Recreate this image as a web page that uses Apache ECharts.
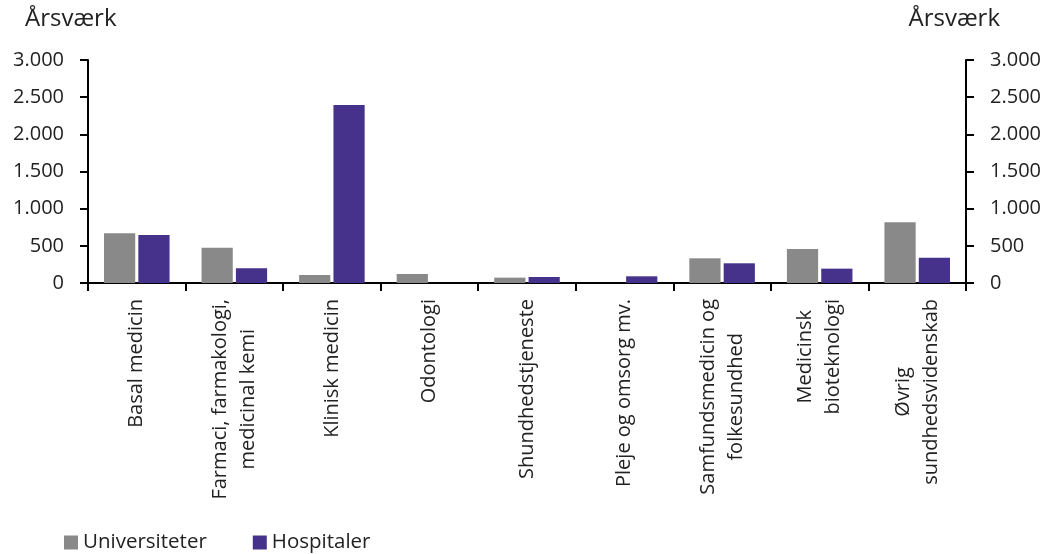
<!DOCTYPE html>
<html>
<head>
<meta charset="utf-8">
<script src="https://cdn.jsdelivr.net/npm/echarts@6/dist/echarts.min.js"></script>
<style>
html,body{margin:0;padding:0;background:#fff;}
#chart{width:1051px;height:554px;}
</style>
</head>
<body>
<div id="chart"></div>
<script>
const categories = [
  "Basal medicin",
  "Farmaci, farmakologi,\nmedicinal kemi",
  "Klinisk medicin",
  "Odontologi",
  "Shundhedstjeneste",
  "Pleje og omsorg mv.",
  "Samfundsmedicin og\nfolkesundhed",
  "Medicinsk\nbioteknologi",
  "Øvrig\nsundhedsvidenskab"
];
const universiteter = [668, 475, 108, 121, 72, 0, 332, 457, 816];
const hospitaler = [646, 197, 2395, 0, 81, 90, 265, 193, 341];
const yTicks = [0, 500, 1000, 1500, 2000, 2500, 3000];

const FONT = "'Open Sans', 'DejaVu Sans', sans-serif";
const fmt = v => String(v).replace(/\B(?=(\d{3})+(?!\d))/g, '.');

const chart = echarts.init(document.getElementById('chart'));
const yAxisCommon = {
  type: 'value',
  min: yTicks[0],
  max: yTicks[yTicks.length - 1],
  interval: yTicks[1] - yTicks[0],
  splitLine: { show: false },
  axisLine: { show: true, lineStyle: { color: '#000', width: 2 } },
  axisTick: { show: true, inside: false, length: 8, lineStyle: { color: '#000', width: 2 } },
  axisLabel: { formatter: fmt, color: '#222', fontSize: 20, fontFamily: FONT, margin: 24 }
};
chart.setOption({
  animation: false,
  textStyle: { fontFamily: FONT },
  graphic: [
    { type: 'text', left: 25, top: 7, style: { text: 'Årsværk', fontSize: 24, fontFamily: FONT, fill: '#222' } },
    { type: 'text', right: 51, top: 7, style: { text: 'Årsværk', fontSize: 24, fontFamily: FONT, fill: '#222' } }
  ],
  grid: { left: 88, right: 85, top: 60, bottom: 271, containLabel: false },
  legend: {
    left: 59, top: 527,
    itemWidth: 14, itemHeight: 14, itemGap: 46,
    icon: 'rect',
    textStyle: { fontSize: 20.5, fontFamily: FONT, color: '#222' },
    data: ['Universiteter', 'Hospitaler']
  },
  xAxis: {
    type: 'category',
    data: categories,
    axisLine: { lineStyle: { color: '#000', width: 2 } },
    axisTick: { show: true, length: 8, lineStyle: { color: '#000', width: 2 } },
    axisLabel: {
      rotate: 90,
      interval: 0,
      margin: 16,
      color: '#222',
      fontSize: 20,
      fontFamily: FONT,
      lineHeight: 28,
      formatter: v => v.split('\n').map(l => '{c|' + l + '}').join('\n'),
      rich: { c: { align: 'center', fontSize: 20, fontFamily: FONT, lineHeight: 28, color: '#222' } }
    }
  },
  yAxis: [
    Object.assign({}, yAxisCommon, { position: 'left' }),
    Object.assign({}, yAxisCommon, { position: 'right' })
  ],
  series: [
    {
      name: 'Universiteter', type: 'bar', data: universiteter,
      barWidth: '32%', barGap: '10%',
      itemStyle: { color: '#898989' }
    },
    {
      name: 'Hospitaler', type: 'bar', data: hospitaler,
      barWidth: '32%', barGap: '10%',
      itemStyle: { color: '#46328b' }
    }
  ]
});
</script>
</body>
</html>
